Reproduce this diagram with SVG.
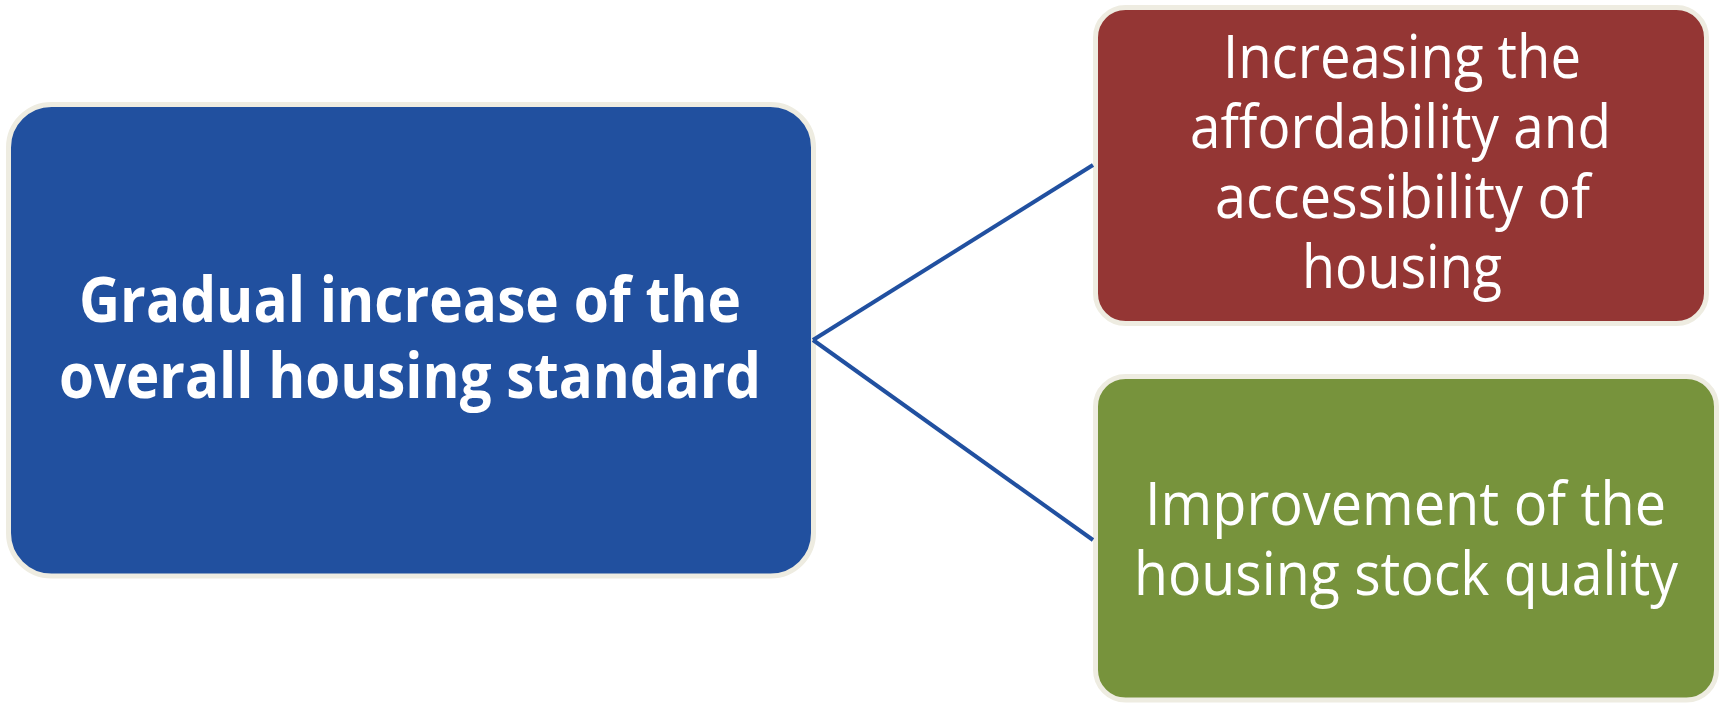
<svg xmlns="http://www.w3.org/2000/svg" width="1721" height="703" viewBox="0 0 1721 703">
  <style>
    .box { stroke: #EEECE1; stroke-width: 5; }
    .t { fill: #FFFFFF; font-family: "Open Sans", "Noto Sans", "Liberation Sans", sans-serif; text-anchor: middle; }
    .tb { font-weight: bold; font-size: 62px; }
    .tr { font-weight: normal; font-size: 60px; }
    .conn { stroke: #2150A0; stroke-width: 4; fill: none; }
  </style>
  <rect x="0" y="0" width="1721" height="703" fill="#FFFFFF"/>
  <g id="node-main">
    <rect class="box" x="8.5" y="104.5" width="805" height="471.5" rx="43" ry="43" fill="#21509F"/>
    <text class="t tb" x="410" y="322" textLength="662" lengthAdjust="spacingAndGlyphs">Gradual increase of the</text>
    <text class="t tb" x="410" y="398" textLength="702" lengthAdjust="spacingAndGlyphs">overall housing standard</text>
  </g>
  <g id="node-affordability">
    <rect class="box" x="1095.5" y="7.5" width="611" height="316" rx="30" ry="30" fill="#943634"/>
    <text class="t tr" x="1402" y="78" textLength="358" lengthAdjust="spacingAndGlyphs">Increasing the</text>
    <text class="t tr" x="1400.5" y="148" textLength="421" lengthAdjust="spacingAndGlyphs">affordability and</text>
    <text class="t tr" x="1402.5" y="218" textLength="375" lengthAdjust="spacingAndGlyphs">accessibility of</text>
    <text class="t tr" x="1402" y="288" textLength="200" lengthAdjust="spacingAndGlyphs">housing</text>
  </g>
  <g id="node-quality">
    <rect class="box" x="1095.5" y="376.5" width="621" height="323.5" rx="30" ry="30" fill="#77933C"/>
    <text class="t tr" x="1405.5" y="525" textLength="521" lengthAdjust="spacingAndGlyphs">Improvement of the</text>
    <text class="t tr" x="1406" y="595" textLength="544" lengthAdjust="spacingAndGlyphs">housing stock quality</text>
  </g>
  <g id="connectors">
    <line class="conn" x1="813" y1="340" x2="1093" y2="165"/>
    <line class="conn" x1="813" y1="340" x2="1093" y2="540"/>
  </g>
</svg>
